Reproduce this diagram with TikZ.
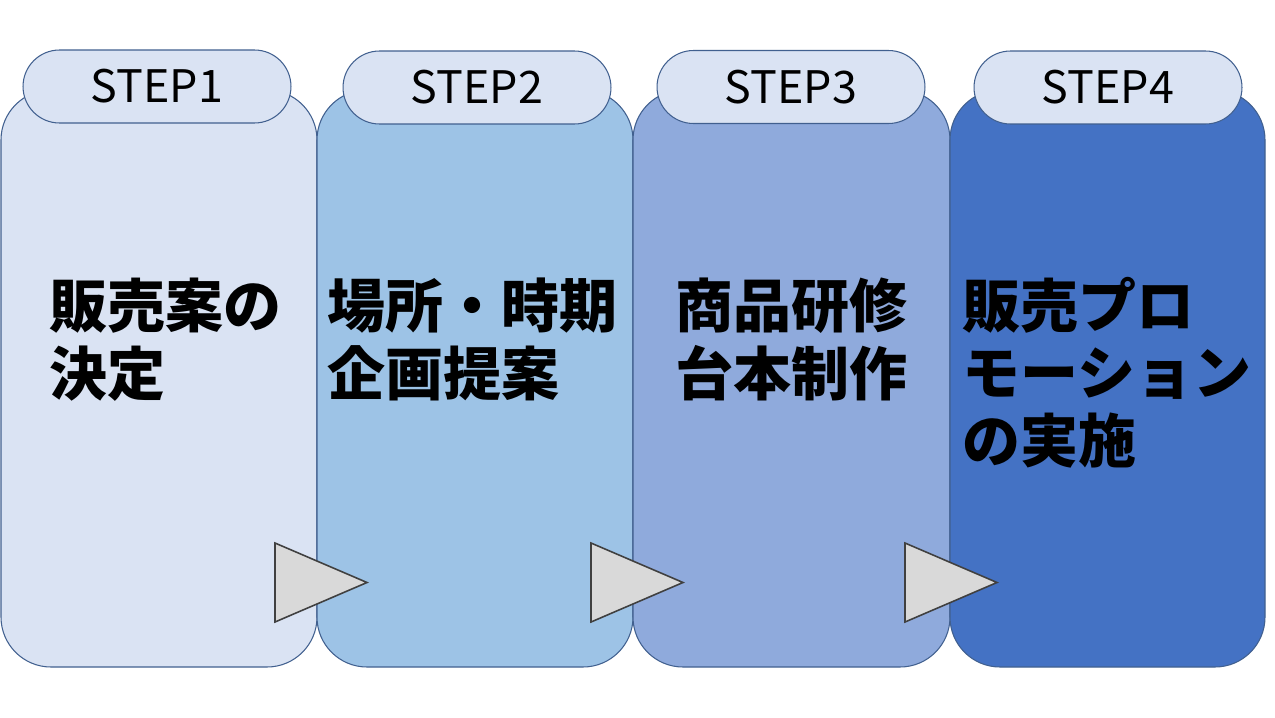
\documentclass[tikz,border=0pt]{standalone}
\usepackage{fontspec}
\setmainfont{Noto Sans CJK JP}
\usetikzlibrary{shapes.misc}
\definecolor{stepone}{HTML}{DAE3F3}
\definecolor{steptwo}{HTML}{9DC3E6}
\definecolor{stepthree}{HTML}{8FAADC}
\definecolor{stepfour}{HTML}{4472C4}
\definecolor{edgeblue}{HTML}{41608F}
\definecolor{arrowgray}{HTML}{D9D9D9}
\tikzset{
	panel/.style={draw=edgeblue,line width=0.6pt,rounded corners=1cm},
	tab/.style={rounded rectangle,draw=edgeblue,fill=stepone,line width=0.6pt,minimum width=5.36cm,minimum height=1.46cm,inner sep=0,font=\fontsize{25.5pt}{30pt}\selectfont},
	bodytext/.style={anchor=base west,align=left,inner sep=0,font=\fontsize{33pt}{38.3pt}\selectfont\bfseries},
	pointer/.style={draw=black!75,fill=arrowgray,line width=0.9pt,line join=miter}
}
\begin{document}
\begin{tikzpicture}[x=0.02cm,y=-0.02cm]
	\useasboundingbox (0,0) rectangle (1275,717);
	\fill[white] (0,0) rectangle (1275,717);
	
	%PANELS
	\foreach \i/\xa/\xb/\col in {1/1/317/stepone,2/317/633/steptwo,3/633/950/stepthree,4/950/1265/stepfour}
		\draw[panel,fill=\col] (\xa,90) rectangle (\xb,667);
	
	%TABS
	\node[tab] (tab1) at (157,86.5) {STEP1};
	\node[tab] (tab2) at (477,87.5) {STEP2};
	\node[tab] (tab3) at (791,87) {STEP3};
	\node[tab] (tab4) at (1108,87.5) {STEP4};
	
	%TEXTS (anchored at the last line)
	\node[bodytext] (text1) at (49,395) {販売案の\\決定};
	\node[bodytext] (text2) at (327,395) {場所・時期\\企画提案};
	\node[bodytext] (text3) at (675,395) {商品研修\\台本制作};
	\node[bodytext] (text4) at (962,462) {販売プロ\\モーション\\の実施};
	
	%ARROWS
	\foreach \x in {275,591,905}
		\draw[pointer] (\x,543) -- (\x+92,582.5) -- (\x,622) -- cycle;
\end{tikzpicture}
\end{document}
